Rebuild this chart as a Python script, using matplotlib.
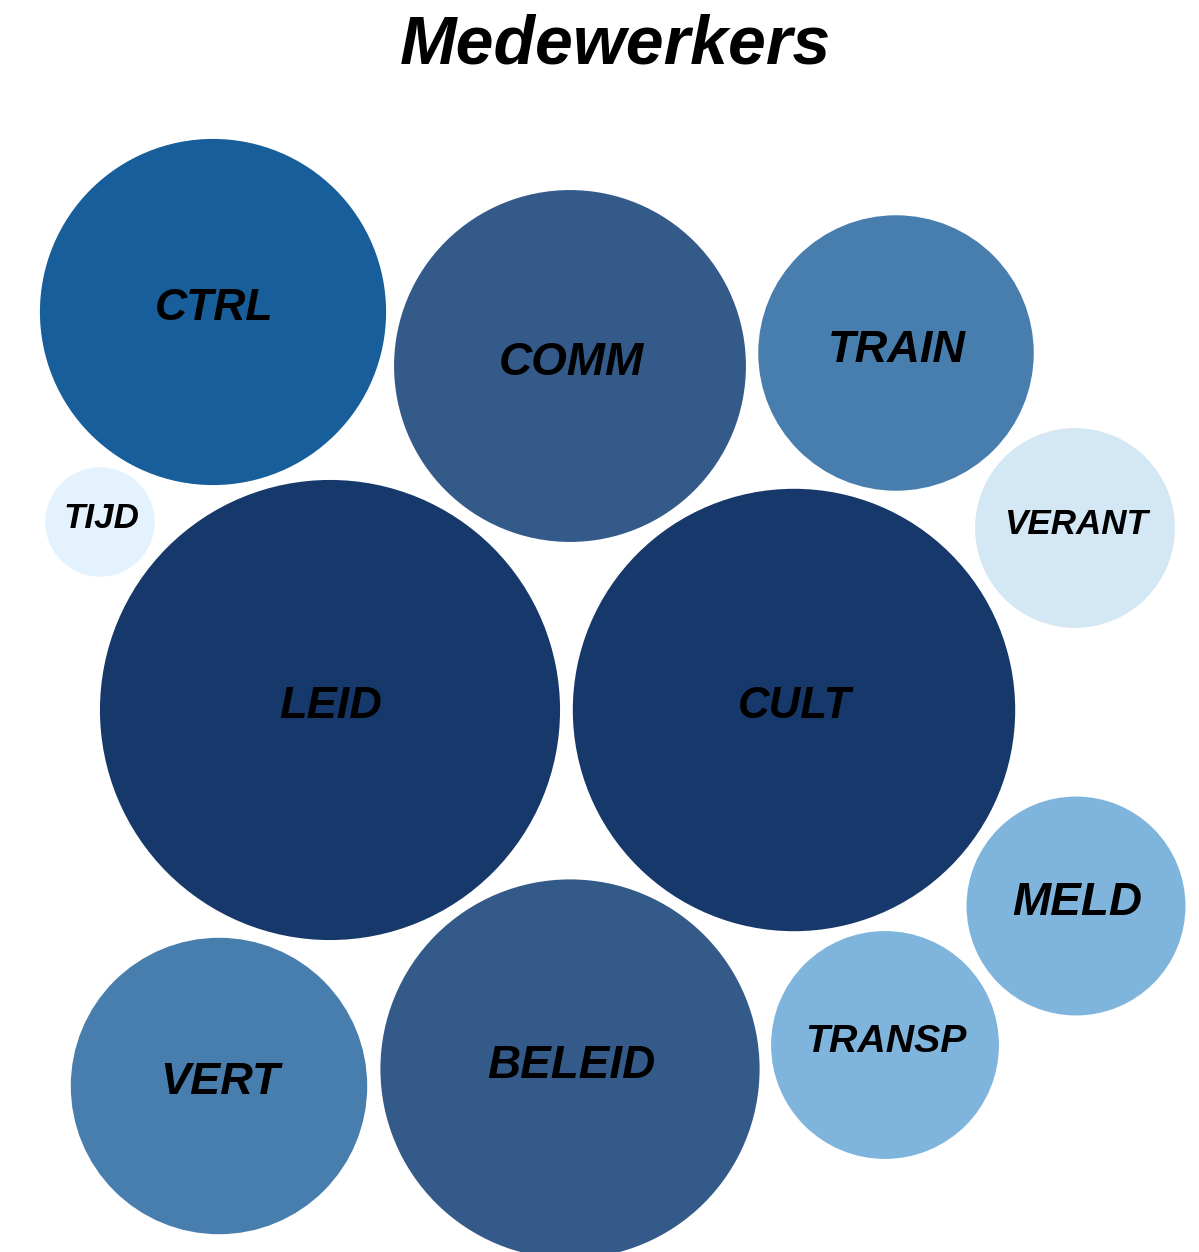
import matplotlib.pyplot as plt
from matplotlib.patches import Circle
import numpy as np

# data
labels = ["CTRL", "COMM", "TRAIN", "VERANT", "TIJD", "LEID", "CULT", "MELD", "TRANSP", "VERT", "BELEID"]
values = [30, 31, 19, 10, 3, 53, 49, 12, 13, 22, 36]

# layout (pixel positions of the packed bubbles) and styles
pos_x = [213, 570, 896, 1075, 100, 330, 794, 1076, 885, 219, 570]
pos_y = [312, 366, 353, 528, 522, 710, 710, 906, 1045, 1086, 1069]
colors = ["#175E9A", "#345A8A", "#477EAE", "#D4E7F5", "#E3F2FC", "#17386A",
          "#17386A", "#7FB5DD", "#7FB5DD", "#477EAE", "#345A8A"]
font_sizes = [32, 33, 32.5, 25.2, 25.2, 32.5, 31.5, 33, 28.3, 32.5, 33]
scale = 31.6  # pixels per sqrt(value)

W, H = 1199, 1252
fig = plt.figure(figsize=(W / 100, H / 100), dpi=100)
ax = fig.add_axes([0, 0, 1, 1])
ax.set_xlim(0, W)
ax.set_ylim(H, 0)
ax.axis("off")

for lab, v, x, y, c, fs in zip(labels, values, pos_x, pos_y, colors, font_sizes):
    r = scale * np.sqrt(v)
    ax.add_patch(Circle((x, y), r, facecolor=c, edgecolor="none"))
    ax.text(x + 1, y - 3, lab, ha="center", va="center", fontsize=fs,
            fontweight="bold", fontstyle="italic", family="Liberation Sans", color="black")

ax.text(615, 46, "Medewerkers", ha="center", va="center", fontsize=49,
        fontweight="bold", fontstyle="italic", family="Liberation Sans")

fig.savefig("out.png", dpi=100)
